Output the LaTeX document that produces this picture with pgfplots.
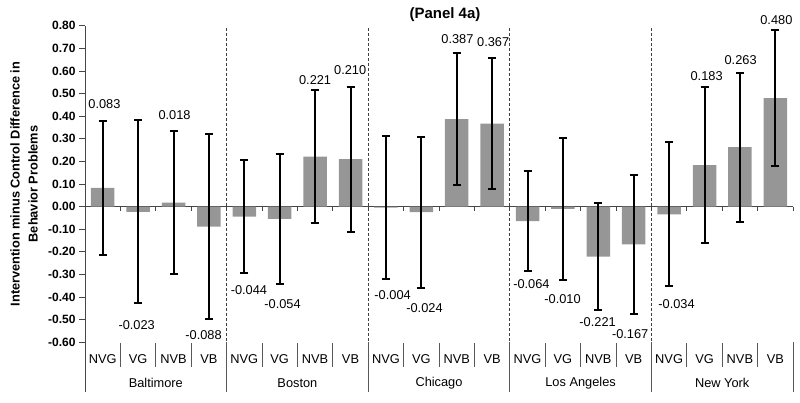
\documentclass[border=0pt]{standalone}
\usepackage{pgfplots}
\usepackage{pgfplotstable}
\pgfplotsset{compat=1.18}
\usepackage{fontspec}
\setmainfont{Liberation Sans}
\definecolor{bargray}{RGB}{150,150,150}
\definecolor{axgray}{RGB}{70,70,70}

\pgfplotstableread{
x y e
0 0.083 0.295
1 -0.023 0.405
2 0.018 0.315
3 -0.088 0.410
4 -0.044 0.250
5 -0.054 0.286
6 0.221 0.294
7 0.210 0.321
8 -0.004 0.316
9 -0.024 0.334
10 0.387 0.293
11 0.367 0.290
12 -0.064 0.222
13 -0.010 0.315
14 -0.221 0.236
15 -0.167 0.307
16 -0.034 0.319
17 0.183 0.345
18 0.263 0.330
19 0.480 0.300
}\bars

\pgfplotstableread{
x y lab
0.05 0.454 0.083
0.96 -0.523 -0.023
2.03 0.405 0.018
2.85 -0.568 -0.088
4.13 -0.369 -0.044
5.08 -0.431 -0.054
6.00 0.560 0.221
6.99 0.604 0.210
8.19 -0.391 -0.004
9.09 -0.447 -0.024
10.02 0.741 0.387
11.03 0.728 0.367
12.11 -0.342 -0.064
12.99 -0.410 -0.010
13.98 -0.509 -0.221
14.90 -0.563 -0.167
16.21 -0.431 -0.034
17.06 0.575 0.183
18.02 0.646 0.263
19.03 0.825 0.480
}\labels

\begin{document}
\begin{tikzpicture}
\useasboundingbox (0,0) rectangle (800pt,402pt);
\begin{axis}[
  at={(85pt,59.7pt)}, anchor=south west,
  scale only axis, width=708pt, height=316.6pt,
  xmin=-0.5, xmax=19.5, ymin=-0.6, ymax=0.8,
  clip=false,
  axis x line=none,
  axis y line*=left,
  y axis line style={draw=axgray, line width=0.8pt},
  xtick=\empty,
  ytick={-0.6,-0.5,-0.4,-0.3,-0.2,-0.1,0,0.1,0.2,0.3,0.4,0.5,0.6,0.7,0.8},
  tick align=outside, major tick length=6pt,
  tick style={draw=axgray, line width=0.8pt},
  yticklabel style={font=\bfseries\fontsize{12}{14}\selectfont, text=black,
    /pgf/number format/.cd, fixed, fixed zerofill, precision=2, assume math mode=true},
]
\draw[axgray, line width=0.8pt] (axis cs:-0.5,0) -- (axis cs:19.5,0);
\pgfplotsinvokeforeach{0.5,1.5,2.5,3.5,4.5,5.5,6.5,7.5,8.5,9.5,10.5,11.5,12.5,13.5,14.5,15.5,16.5,17.5,18.5,19.5}{
  \draw[axgray, line width=0.8pt] (axis cs:#1,0) -- (axis cs:#1,-0.018);
}
\addplot[ybar, bar width=23.5pt, fill=bargray, draw=none,
  error bars/.cd, y dir=both, y explicit,
  error bar style={line width=2pt, draw=black},
  error mark options={rotate=90, mark size=4pt, line width=2pt, draw=black}]
  table[x=x, y=y, y error=e] {\bars};
\addplot[draw=none, nodes near coords, point meta=explicit symbolic,
  nodes near coords style={anchor=center, font=\fontsize{12.8}{14}\selectfont, text=black}]
  table[x=x, y=y, meta=lab] {\labels};
% separators
\pgfplotsinvokeforeach{3.5,7.5,11.5,15.5}{
  \draw[black!75, line width=0.8pt, dash pattern=on 3pt off 2pt] (axis cs:#1,0.79) -- (axis cs:#1,-0.6);
  \draw[black!65, line width=0.8pt] (axis cs:#1,-0.6) -- (axis cs:#1,-0.82);
}
\draw[axgray, line width=0.8pt] (axis cs:-0.5,-0.6) -- (axis cs:-0.5,-0.82);
\draw[black!65, line width=0.8pt] (axis cs:19.5,-0.6) -- (axis cs:19.5,-0.82);
\pgfplotsinvokeforeach{0.5,1.5,2.5,4.5,5.5,6.5,8.5,9.5,10.5,12.5,13.5,14.5,16.5,17.5,18.5}{
  \draw[black!65, line width=0.8pt] (axis cs:#1,-0.605) -- (axis cs:#1,-0.71);
}
\tikzset{sub/.style={font=\fontsize{12.8}{14}\selectfont, anchor=center}}
\node[sub] at (axis cs:0,-0.674) {NVG};
\node[sub] at (axis cs:1,-0.674) {VG};
\node[sub] at (axis cs:2,-0.674) {NVB};
\node[sub] at (axis cs:3,-0.674) {VB};
\node[sub] at (axis cs:4,-0.674) {NVG};
\node[sub] at (axis cs:5,-0.674) {VG};
\node[sub] at (axis cs:6,-0.674) {NVB};
\node[sub] at (axis cs:7,-0.674) {VB};
\node[sub] at (axis cs:8,-0.674) {NVG};
\node[sub] at (axis cs:9,-0.674) {VG};
\node[sub] at (axis cs:10,-0.674) {NVB};
\node[sub] at (axis cs:11,-0.674) {VB};
\node[sub] at (axis cs:12,-0.674) {NVG};
\node[sub] at (axis cs:13,-0.674) {VG};
\node[sub] at (axis cs:14,-0.674) {NVB};
\node[sub] at (axis cs:15,-0.674) {VB};
\node[sub] at (axis cs:16,-0.674) {NVG};
\node[sub] at (axis cs:17,-0.674) {VG};
\node[sub] at (axis cs:18,-0.674) {NVB};
\node[sub] at (axis cs:19,-0.674) {VB};
\node[sub] at (axis cs:1.5,-0.780) {Baltimore};
\node[sub] at (axis cs:5.5,-0.780) {Boston};
\node[sub] at (axis cs:9.5,-0.780) {Chicago};
\node[sub] at (axis cs:13.5,-0.780) {Los Angeles};
\node[sub] at (axis cs:17.5,-0.780) {New York};
\end{axis}
\node[font=\bfseries\fontsize{15}{17}\selectfont] at (445pt,387pt) {(Panel 4a)};
\node[rotate=90, align=center, font=\bfseries\fontsize{12.8}{18}\selectfont] at (24pt,218pt)
  {Intervention minus Control Difference in\\Behavior Problems};
\end{tikzpicture}
\end{document}
